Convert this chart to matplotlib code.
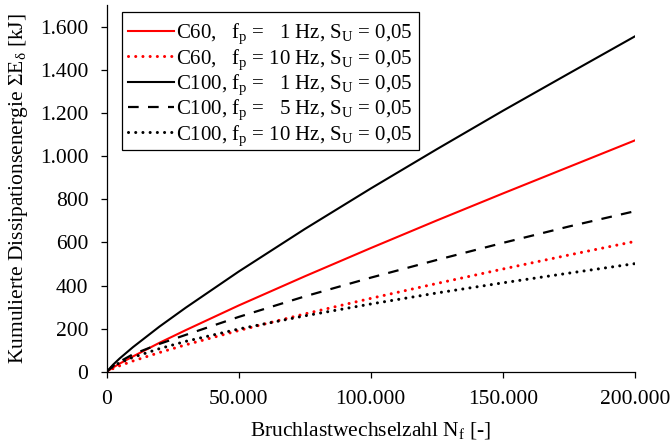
import matplotlib
matplotlib.use("Agg")
import matplotlib.pyplot as plt
from matplotlib.ticker import FuncFormatter, MultipleLocator
from matplotlib.transforms import Affine2D

plt.rcParams['font.family'] = ['Liberation Serif', 'DejaVu Serif']
plt.rcParams['mathtext.fontset'] = 'custom'
plt.rcParams['mathtext.rm'] = 'Liberation Serif'
plt.rcParams['mathtext.it'] = 'Liberation Serif:italic'
plt.rcParams['mathtext.bf'] = 'Liberation Serif:bold'

# Cycles to failure N_f
N = [0, 2500, 5000, 10000, 20000, 30000, 50000, 75000, 100000, 125000, 150000, 175000, 200000]

# Cumulative dissipation energy [kJ]
c60_1hz = [0, 21, 39, 72, 135, 194, 308, 443, 574, 702, 827, 950, 1073]
c60_10hz = [0, 16, 29, 51, 90, 126, 192, 269, 341, 410, 477, 542, 605]
c100_1hz = [0, 34, 63, 115, 210, 298, 465, 662, 850, 1032, 1210, 1383, 1555]
c100_5hz = [0, 28, 48, 82, 130, 172, 255, 350, 437, 519, 598, 674, 745]
c100_10hz = [0, 27, 43, 68, 108, 142, 199, 260, 315, 366, 413, 458, 502]

labels = [
    "C60,   f$_\\mathrm{p}$ =   1 Hz, S$_\\mathrm{U}$ = 0,05",
    "C60,   f$_\\mathrm{p}$ = 10 Hz, S$_\\mathrm{U}$ = 0,05",
    "C100, f$_\\mathrm{p}$ =   1 Hz, S$_\\mathrm{U}$ = 0,05",
    "C100, f$_\\mathrm{p}$ =   5 Hz, S$_\\mathrm{U}$ = 0,05",
    "C100, f$_\\mathrm{p}$ = 10 Hz, S$_\\mathrm{U}$ = 0,05",
]

fig = plt.figure(figsize=(6.72, 4.45), dpi=100)
ax = fig.add_axes([106.5/672, 73/445, (635-106.5)/672, (372-5)/445])

dot = (0, (0.01, 2.35))
dash = (0, (4.8, 4.2))
ax.plot(N, c60_1hz, color='#ff0000', lw=1.5, label=labels[0])
ax.plot(N, c60_10hz, color='#ff0000', lw=2.2, linestyle=dot, dash_capstyle='round', label=labels[1])
ax.plot(N, c100_1hz, color='black', lw=1.5, label=labels[2])
ax.plot(N, c100_5hz, color='black', lw=1.6, linestyle=dash, label=labels[3])
ax.plot(N, c100_10hz, color='black', lw=2.2, linestyle=dot, dash_capstyle='round', label=labels[4])

ax.set_xlim(0, 200000)
ax.set_ylim(0, 1700)
ax.xaxis.set_major_locator(MultipleLocator(50000))
ax.yaxis.set_major_locator(MultipleLocator(200))
fmt = FuncFormatter(lambda v, p: f"{int(round(v)):,}".replace(",", "."))
ax.xaxis.set_major_formatter(fmt)
ax.yaxis.set_major_formatter(fmt)

for s in ['top', 'right']:
    ax.spines[s].set_visible(False)
for s in ['left', 'bottom']:
    ax.spines[s].set_linewidth(0.9)
ax.tick_params(direction='out', length=4, width=0.9, labelsize=15.5, pad=9)

ax.set_xlabel("Bruchlastwechselzahl N$_\\mathrm{f}$ [-]", fontsize=15.5, labelpad=8)
ax.set_ylabel("Kumulierte Dissipationsenergie ΣE$_\\mathrm{δ}$ [kJ]", fontsize=15.5, labelpad=7)

leg = ax.legend(loc='upper left', bbox_to_anchor=(15.5/528.5, 1-7/367), fontsize=15,
                frameon=True, fancybox=False, edgecolor='black', framealpha=1,
                handlelength=2.2, handletextpad=0.1, labelspacing=0.04,
                borderpad=0.3, borderaxespad=0)
leg.get_frame().set_linewidth(0.9)

# shift legend rows slightly downward inside the frame
shift = Affine2D().translate(0, -3.5)
for t in leg.get_texts():
    t.set_transform(t.get_transform() + shift)
for h in leg.legend_handles:
    h.set_transform(h.get_transform() + shift)

fig.savefig("out.png", dpi=100)
